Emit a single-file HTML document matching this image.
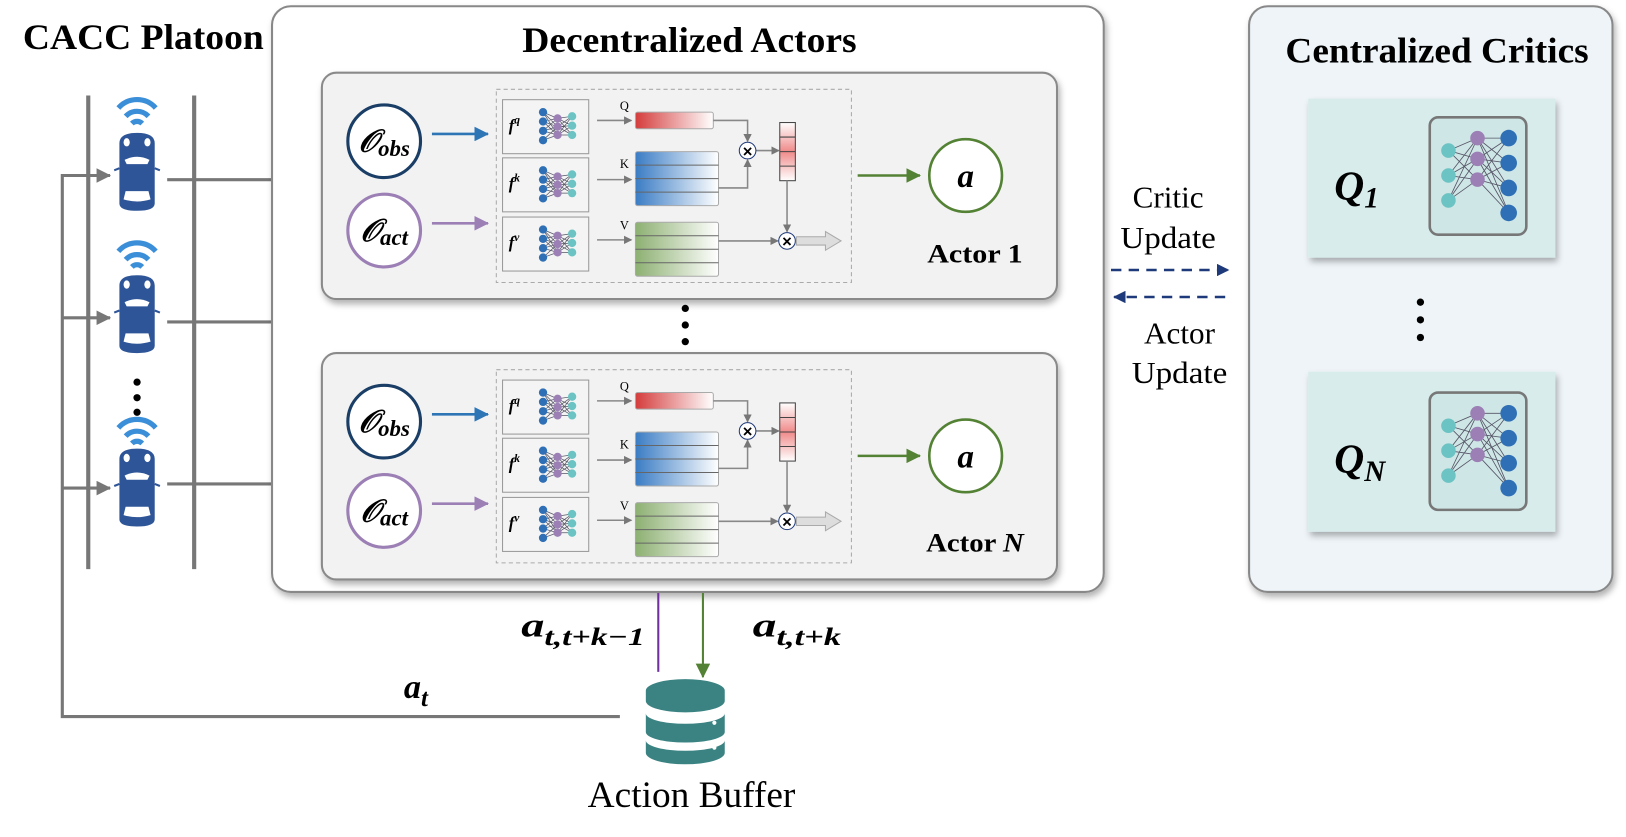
<!DOCTYPE html>
<html><head><meta charset="utf-8"><style>
html,body{margin:0;padding:0;background:#fff;}
svg{display:block}
.t{font-family:"Liberation Serif",serif;}
</style></head><body>
<svg width="1626" height="837" viewBox="0 0 1566 806" preserveAspectRatio="none" xmlns="http://www.w3.org/2000/svg">
<defs>
<linearGradient id="gq" x1="0" x2="1"><stop offset="0" stop-color="#d43c3c"/><stop offset="1" stop-color="#fff"/></linearGradient>
<linearGradient id="gk" x1="0" x2="1"><stop offset="0" stop-color="#3a7cc4"/><stop offset="1" stop-color="#fff"/></linearGradient>
<linearGradient id="gv" x1="0" x2="1"><stop offset="0" stop-color="#8db072"/><stop offset="1" stop-color="#fff"/></linearGradient>
<linearGradient id="ga" x1="0" x2="0" y1="0" y2="1"><stop offset="0" stop-color="#fff"/><stop offset="0.5" stop-color="#f08a8a"/><stop offset="1" stop-color="#fff"/></linearGradient>
<filter id="sh" x="-5%" y="-5%" width="110%" height="115%"><feDropShadow dx="2" dy="4" stdDeviation="3" flood-color="#000" flood-opacity="0.3"/></filter>
<marker id="ag" markerWidth="8" markerHeight="8" refX="7" refY="4" orient="auto" markerUnits="userSpaceOnUse"><path d="M0,0L8,4L0,8z" fill="#777"/></marker>
<marker id="ag2" markerWidth="14" markerHeight="14" refX="13" refY="7" orient="auto" markerUnits="userSpaceOnUse"><path d="M0,0L14,7L0,14z" fill="#777"/></marker>
<marker id="ab" markerWidth="14" markerHeight="14" refX="13" refY="7" orient="auto" markerUnits="userSpaceOnUse"><path d="M0,0L14,7L0,14z" fill="#2e75b6"/></marker>
<marker id="ap" markerWidth="14" markerHeight="14" refX="13" refY="7" orient="auto" markerUnits="userSpaceOnUse"><path d="M0,0L14,7L0,14z" fill="#9b7fb5"/></marker>
<marker id="agr" markerWidth="14" markerHeight="14" refX="13" refY="7" orient="auto" markerUnits="userSpaceOnUse"><path d="M0,0L14,7L0,14z" fill="#548235"/></marker>
<marker id="an" markerWidth="12" markerHeight="12" refX="11" refY="6" orient="auto" markerUnits="userSpaceOnUse"><path d="M0,0L12,6L0,12z" fill="#1f3a7a"/></marker>
<g id="nn">
 <g stroke="#556" stroke-width="0.7">
 <path d="M0,0L14,6M0,0L14,14M0,0L14,22M0,9L14,6M0,9L14,14M0,9L14,22M0,18L14,6M0,18L14,14M0,18L14,22M0,27L14,14M0,27L14,22M14,6L28,4M14,6L28,13M14,6L28,22M14,14L28,4M14,14L28,13M14,14L28,22M14,22L28,4M14,22L28,13M14,22L28,22"/></g>
 <g fill="#2e6fb5"><circle cx="0" cy="0" r="4"/><circle cx="0" cy="9" r="4"/><circle cx="0" cy="18" r="4"/><circle cx="0" cy="27" r="4"/></g>
 <g fill="#9b7fb5"><circle cx="14" cy="6" r="4"/><circle cx="14" cy="14" r="4"/><circle cx="14" cy="22" r="4"/></g>
 <g fill="#6cc3c3"><circle cx="28" cy="4" r="4"/><circle cx="28" cy="13" r="4"/><circle cx="28" cy="22" r="4"/></g>
</g>
<g id="car">
 <path d="M-17,-30 Q-17,-40 0,-40 Q17,-40 17,-30 L17,28 Q17,35 0,35 Q-17,35 -17,28z" fill="#2e5597"/>
 <path d="M-12,-14 Q0,-20 12,-14 L10,-10 L-10,-10z" fill="#fff"/>
 <path d="M-11,16 L11,16 L13,24 Q0,28 -13,24z" fill="#fff"/>
 <ellipse cx="-10" cy="-31" rx="3" ry="4" fill="#fff"/><ellipse cx="10" cy="-31" rx="3" ry="4" fill="#fff"/>
 <path d="M-17,-6 L-22,-4 M17,-6 L22,-4" stroke="#2e5597" stroke-width="2"/>
</g>
<g id="wifi" fill="none" stroke="#3b8fd9" stroke-width="5">
 <path d="M-18,-8 A24,24 0 0 1 18,-8"/><path d="M-11,0 A15,15 0 0 1 11,0"/><path d="M-5,7 A7,7 0 0 1 5,7"/>
</g>
<g id="actor">
 <rect x="310" y="0" width="708" height="218" rx="14" fill="#f2f2f2" stroke="#8a8a8a" stroke-width="2" filter="url(#sh)"/>
 <circle cx="370" cy="66" r="35" fill="#fff" stroke="#1a3e66" stroke-width="3"/>
 <text x="370" y="76" text-anchor="middle" class="t" font-size="30" font-weight="bold" font-style="italic">𝒪<tspan font-size="22" dy="4">obs</tspan></text>
 <circle cx="370" cy="152" r="35" fill="#fff" stroke="#9b7fb5" stroke-width="3"/>
 <text x="370" y="162" text-anchor="middle" class="t" font-size="30" font-weight="bold" font-style="italic">𝒪<tspan font-size="22" dy="4">act</tspan></text>
 <line x1="416" y1="59" x2="470" y2="59" stroke="#2e75b6" stroke-width="2.5" marker-end="url(#ab)"/>
 <line x1="416" y1="145" x2="470" y2="145" stroke="#9b7fb5" stroke-width="2.5" marker-end="url(#ap)"/>
 <rect x="478" y="16" width="342" height="186" fill="none" stroke="#aaa" stroke-dasharray="4,3"/>
 <rect x="484" y="26" width="83" height="52" fill="#f4f4f4" stroke="#999"/>
 <rect x="484" y="82" width="83" height="52" fill="#f4f4f4" stroke="#999"/>
 <rect x="484" y="139" width="83" height="52" fill="#f4f4f4" stroke="#999"/>
 <text x="490" y="56" class="t" font-size="16" font-weight="bold" font-style="italic">f<tspan font-size="11" dy="-7">q</tspan></text>
 <text x="490" y="112" class="t" font-size="16" font-weight="bold" font-style="italic">f<tspan font-size="11" dy="-7">k</tspan></text>
 <text x="490" y="169" class="t" font-size="16" font-weight="bold" font-style="italic">f<tspan font-size="11" dy="-7">v</tspan></text>
 <use href="#nn" x="523" y="38"/><use href="#nn" x="523" y="94"/><use href="#nn" x="523" y="151"/>
 <line x1="575" y1="46" x2="608" y2="46" stroke="#888" stroke-width="1.5" marker-end="url(#ag)"/>
 <line x1="575" y1="103" x2="608" y2="103" stroke="#888" stroke-width="1.5" marker-end="url(#ag)"/>
 <line x1="575" y1="161" x2="608" y2="161" stroke="#888" stroke-width="1.5" marker-end="url(#ag)"/>
 <text x="597" y="36" class="t" font-size="12">Q</text><text x="597" y="92" class="t" font-size="12">K</text><text x="597" y="151" class="t" font-size="12">V</text>
 <rect x="612" y="38" width="75" height="16" rx="2" fill="url(#gq)" stroke="#aaa"/>
 <rect x="612" y="76" width="80" height="52" rx="2" fill="url(#gk)" stroke="#aaa"/>
 <path d="M612,89H692M612,102H692M612,115H692" stroke="#666"/>
 <rect x="612" y="144" width="80" height="52" rx="2" fill="url(#gv)" stroke="#aaa"/>
 <path d="M612,157H692M612,170H692M612,183H692" stroke="#666"/>
 <path d="M687,46H720V66" fill="none" stroke="#888" stroke-width="1.5" marker-end="url(#ag)"/>
 <path d="M692,111H720V84" fill="none" stroke="#888" stroke-width="1.5" marker-end="url(#ag)"/>
 <rect x="751" y="48" width="15" height="56" fill="url(#ga)" stroke="#444"/>
 <path d="M751,62H766M751,76H766M751,90H766" stroke="#444"/>
 <line x1="728" y1="75" x2="750" y2="75" stroke="#888" stroke-width="1.5" marker-end="url(#ag)"/>
 <line x1="758" y1="104" x2="758" y2="153" stroke="#888" stroke-width="1.5" marker-end="url(#ag)"/>
 <line x1="692" y1="162" x2="749" y2="162" stroke="#888" stroke-width="1.5" marker-end="url(#ag)"/>
 <circle cx="720" cy="75" r="8" fill="#fff" stroke="#1f3a7a"/><text x="720" y="81" text-anchor="middle" font-family="Liberation Sans" font-size="16" font-weight="bold">×</text>
 <circle cx="758" cy="162" r="8" fill="#fff" stroke="#1f3a7a"/><text x="758" y="168" text-anchor="middle" font-family="Liberation Sans" font-size="16" font-weight="bold">×</text>
 <path d="M767,158H795V153L810,162L795,171V166H767z" fill="#ddd" stroke="#aaa"/>
 <line x1="826" y1="99" x2="886" y2="99" stroke="#548235" stroke-width="2.5" marker-end="url(#agr)"/>
 <circle cx="930" cy="99" r="35" fill="#fff" stroke="#548235" stroke-width="2.5"/>
 <text x="930" y="110" text-anchor="middle" class="t" font-size="32" font-weight="bold" font-style="italic">a</text>
</g>
<g id="qnn">
 <rect x="0" y="0" width="93" height="113" rx="8" fill="#cfe6e6" stroke="#777" stroke-width="2.5"/>
 <g stroke="#556" stroke-width="0.8">
 <path d="M18,32L46,20M18,32L46,40M18,32L46,60M18,56L46,20M18,56L46,40M18,56L46,60M18,80L46,40M18,80L46,60M18,80L46,20M46,20L76,20M46,20L76,44M46,20L76,68M46,20L76,92M46,40L76,20M46,40L76,44M46,40L76,68M46,40L76,92M46,60L76,20M46,60L76,44M46,60L76,68M46,60L76,92"/></g>
 <g fill="#6cc3c3"><circle cx="18" cy="32" r="7"/><circle cx="18" cy="56" r="7"/><circle cx="18" cy="80" r="7"/></g>
 <g fill="#9b7fb5"><circle cx="46" cy="20" r="7"/><circle cx="46" cy="40" r="7"/><circle cx="46" cy="60" r="7"/></g>
 <g fill="#2e6fb5"><circle cx="76" cy="20" r="8"/><circle cx="76" cy="44" r="8"/><circle cx="76" cy="68" r="8"/><circle cx="76" cy="92" r="8"/></g>
</g>
</defs>

<text x="22" y="47" class="t" font-size="35" font-weight="bold" textLength="232" lengthAdjust="spacingAndGlyphs">CACC Platoon</text>
<line x1="85" y1="92" x2="85" y2="548" stroke="#777" stroke-width="4"/>
<line x1="187" y1="92" x2="187" y2="548" stroke="#777" stroke-width="4"/>
<use href="#wifi" x="132" y="112"/><use href="#car" x="132" y="168"/>
<use href="#wifi" x="132" y="250"/><use href="#car" x="132" y="305"/>
<use href="#wifi" x="132" y="420"/><use href="#car" x="132" y="472"/>
<circle cx="132" cy="368" r="3.5"/><circle cx="132" cy="383" r="3.5"/><circle cx="132" cy="397" r="3.5"/>
<g stroke="#777" stroke-width="3" fill="none">
<line x1="161" y1="173" x2="262" y2="173"/><line x1="161" y1="310" x2="262" y2="310"/><line x1="161" y1="466" x2="262" y2="466"/>
<path d="M597,690H60V169H106" marker-end="url(#ag2)"/>
<path d="M60,306H106" marker-end="url(#ag2)"/>
<path d="M60,470H106" marker-end="url(#ag2)"/>
</g>

<rect x="262" y="6" width="801" height="564" rx="18" fill="#fff" stroke="#888" stroke-width="2" filter="url(#sh)"/>
<text x="664" y="50" text-anchor="middle" class="t" font-size="35" font-weight="bold" textLength="322" lengthAdjust="spacingAndGlyphs">Decentralized Actors</text>
<use href="#actor" x="0" y="70"/>
<text x="939" y="253" text-anchor="middle" class="t" font-size="25" font-weight="bold" textLength="92" lengthAdjust="spacingAndGlyphs">Actor 1</text>
<circle cx="660" cy="297" r="3.5"/><circle cx="660" cy="313" r="3.5"/><circle cx="660" cy="329" r="3.5"/>
<use href="#actor" x="0" y="340"/>
<text x="939" y="531" text-anchor="middle" class="t" font-size="25" font-weight="bold" textLength="94" lengthAdjust="spacingAndGlyphs">Actor <tspan font-style="italic">N</tspan></text>

<line x1="634" y1="571" x2="634" y2="647" stroke="#7030a0" stroke-width="2"/>
<line x1="677" y1="571" x2="677" y2="652" stroke="#548235" stroke-width="2" marker-end="url(#agr)"/>
<text x="502" y="613" class="t" font-size="33" font-weight="bold" font-style="italic" textLength="119" lengthAdjust="spacingAndGlyphs">a<tspan font-size="24" dy="8">t,t+k−1</tspan></text>
<text x="725" y="613" class="t" font-size="33" font-weight="bold" font-style="italic" textLength="85" lengthAdjust="spacingAndGlyphs">a<tspan font-size="24" dy="8">t,t+k</tspan></text>
<text x="389" y="672" class="t" font-size="33" font-weight="bold" font-style="italic">a<tspan font-size="24" dy="8">t</tspan></text>
<g fill="#3b8282">
<path d="M622,665 a38,11 0 0 1 76,0 v10 a38,11 0 0 1 -76,0z"/>
<path d="M622,687 a38,10 0 0 0 76,0 v18 a38,10 0 0 1 -76,0z"/>
<path d="M622,713 a38,10 0 0 0 76,0 v12 a38,11 0 0 1 -76,0z"/>
</g>
<circle cx="688" cy="696" r="2" fill="#fff"/><circle cx="688" cy="720" r="2" fill="#fff"/>
<text x="666" y="777" text-anchor="middle" class="t" font-size="36" textLength="200" lengthAdjust="spacingAndGlyphs">Action Buffer</text>

<text x="1125" y="200" text-anchor="middle" class="t" font-size="30">Critic</text>
<text x="1125" y="239" text-anchor="middle" class="t" font-size="30" textLength="92" lengthAdjust="spacingAndGlyphs">Update</text>
<line x1="1070" y1="260" x2="1183" y2="260" stroke="#1f3a7a" stroke-width="2.5" stroke-dasharray="10,7" marker-end="url(#an)"/>
<line x1="1180" y1="286" x2="1073" y2="286" stroke="#1f3a7a" stroke-width="2.5" stroke-dasharray="10,7" marker-end="url(#an)"/>
<text x="1136" y="331" text-anchor="middle" class="t" font-size="30">Actor</text>
<text x="1136" y="369" text-anchor="middle" class="t" font-size="30" textLength="92" lengthAdjust="spacingAndGlyphs">Update</text>

<rect x="1203" y="6" width="350" height="564" rx="18" fill="#eef4f8" stroke="#888" stroke-width="2" filter="url(#sh)"/>
<text x="1384" y="60" text-anchor="middle" class="t" font-size="35" font-weight="bold" textLength="292" lengthAdjust="spacingAndGlyphs">Centralized Critics</text>
<rect x="1260" y="95" width="238" height="153" fill="#d8ecec" filter="url(#sh)"/>
<rect x="1260" y="358" width="238" height="154" fill="#d8ecec" filter="url(#sh)"/>
<text x="1285" y="192" class="t" font-size="40" font-weight="bold" font-style="italic">Q<tspan font-size="28" dy="8">1</tspan></text>
<text x="1285" y="455" class="t" font-size="40" font-weight="bold" font-style="italic">Q<tspan font-size="28" dy="8">N</tspan></text>
<use href="#qnn" x="1377" y="113"/><use href="#qnn" x="1377" y="378"/>
<circle cx="1368" cy="291" r="3.5"/><circle cx="1368" cy="308" r="3.5"/><circle cx="1368" cy="325" r="3.5"/>
</svg>
</body></html>
